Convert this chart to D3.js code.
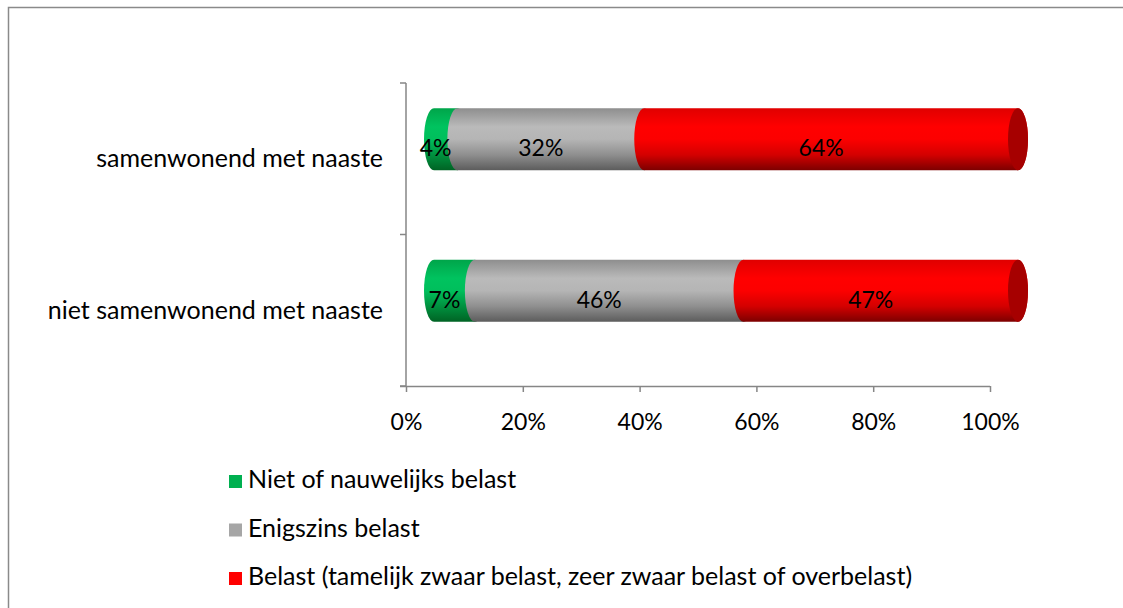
<!DOCTYPE html>
<html>
<head>
<meta charset="utf-8">
<script src="https://cdn.jsdelivr.net/npm/d3@7"></script>
<style>
  body { margin: 0; background: #fff; }
  svg { display: block; }
  text { font-family: Lato, "Open Sans", sans-serif; fill: #000; }
</style>
</head>
<body>
<svg id="chart" width="1123" height="608"></svg>
<script>
// data
var categories = ["samenwonend met naaste", "niet samenwonend met naaste"];
var seriesNames = [
  "Niet of nauwelijks belast",
  "Enigszins belast",
  "Belast (tamelijk zwaar belast, zeer zwaar belast of overbelast)"
];
var nietBelast = [4, 7];
var enigszins = [32, 46];
var belast = [64, 47];
var xTicks = [0, 20, 40, 60, 80, 100];

// styles
var legendColors = ["#00b050", "#a6a6a6", "#ff0000"];
var gradStops = [
  ["#00a54a", "#00c35f", "#00bf5c", "#00913f", "#006324"],
  ["#8e8e8e", "#bababa", "#b5b5b5", "#8f8f8f", "#5c5c5c"],
  ["#e00000", "#ff0000", "#fc0000", "#d40000", "#7c0000"]
];
var capColor = "#a60000";

var svg = d3.select("#chart");
var defs = svg.append("defs");
gradStops.forEach(function (stops, i) {
  var g = defs.append("linearGradient")
    .attr("id", "cyl" + i)
    .attr("x1", 0).attr("y1", 0).attr("x2", 0).attr("y2", 1);
  var offs = [0, 0.3, 0.5, 0.75, 1];
  stops.forEach(function (c, j) {
    g.append("stop").attr("offset", offs[j]).attr("stop-color", c);
  });
});

// outer frame (only top and left visible)
svg.append("path")
  .attr("d", "M8.5,608 L8.5,7.5 L1123,7.5")
  .attr("fill", "none")
  .attr("stroke", "#8a8a8a")
  .attr("stroke-width", 1.5);

var x = d3.scaleLinear().domain([0, 100]).range([406, 990]);
var y = d3.scaleBand().domain(categories).range([83, 386])
  .paddingInner(0.59).paddingOuter(0.295);

// 3D offsets of the bars and data labels
var barDx = 28, barDy = -19.5;
var lblDx = 18, lblDy = -2.5;
var rx = 10;

// stacked data
var series = [nietBelast, enigszins, belast];
var stacked = [];
categories.forEach(function (c, ci) {
  var acc = 0;
  series.forEach(function (s, si) {
    stacked.push({ cat: c, s: si, v: s[ci], x0: acc, x1: acc + s[ci], last: si === series.length - 1 });
    acc += s[ci];
  });
});

// axes
var axisColor = "#868686";
var xAxis = d3.axisBottom(x)
  .tickValues(xTicks)
  .tickSize(6)
  .tickSizeOuter(0)
  .tickPadding(22)
  .tickFormat(function (d) { return d + "%"; });
var gx = svg.append("g").attr("transform", "translate(0,386)").call(xAxis);
gx.select(".domain").attr("stroke", axisColor).attr("stroke-width", 1.5)
  .attr("d", "M400,0.5H" + x(100));
gx.selectAll(".tick line").attr("stroke", axisColor).attr("stroke-width", 1.5);
gx.selectAll(".tick text")
  .style("font-family", "Lato, 'Open Sans', sans-serif")
  .style("font-size", "23px")
  .attr("fill", "#000");

var gy = svg.append("g");
gy.append("line")
  .attr("x1", x(0)).attr("x2", x(0))
  .attr("y1", y.range()[0]).attr("y2", y.range()[1])
  .attr("stroke", axisColor).attr("stroke-width", 1.5);
var yEdges = d3.range(categories.length + 1).map(function (i) { return y.range()[0] + i * y.step(); });
gy.selectAll(".ytick").data(yEdges).enter().append("line")
  .attr("x1", x(0) - 6).attr("x2", x(0))
  .attr("y1", function (d) { return d; }).attr("y2", function (d) { return d; })
  .attr("stroke", axisColor).attr("stroke-width", 1.5);

gy.selectAll(".cat").data(categories).enter().append("text")
  .attr("x", 383)
  .attr("y", function (d) { return y(d) + y.bandwidth() / 2 + 8.7; })
  .attr("text-anchor", "end")
  .style("font-size", "25px")
  .text(function (d) { return d; });

// cylinders
var ry = y.bandwidth() / 2;
function segPath(d) {
  var top = y(d.cat) + barDy, bot = top + y.bandwidth();
  var a = x(d.x0) + barDx, b = x(d.x1) + barDx;
  return "M" + a + "," + top + "L" + b + "," + top +
    "A" + rx + "," + ry + " 0 0 1 " + b + "," + bot +
    "L" + a + "," + bot +
    "A" + rx + "," + ry + " 0 0 1 " + a + "," + top + "Z";
}
var bars = svg.append("g");
bars.selectAll("path.seg").data(stacked).enter().append("path")
  .attr("class", "seg")
  .attr("d", segPath)
  .attr("fill", function (d) { return "url(#cyl" + d.s + ")"; });
bars.selectAll("ellipse.cap").data(stacked.filter(function (d) { return d.last; })).enter()
  .append("ellipse")
  .attr("cx", function (d) { return x(d.x1) + barDx; })
  .attr("cy", function (d) { return y(d.cat) + barDy + ry; })
  .attr("rx", rx).attr("ry", ry)
  .attr("fill", capColor);

// data labels
svg.append("g").selectAll("text").data(stacked).enter().append("text")
  .attr("x", function (d) { return x((d.x0 + d.x1) / 2) + lblDx; })
  .attr("y", function (d) { return y(d.cat) + y.bandwidth() / 2 + lblDy; })
  .attr("text-anchor", "middle")
  .style("font-size", "23px")
  .text(function (d) { return d.v + "%"; });

// legend
var legend = svg.append("g").selectAll("g").data(seriesNames).enter().append("g")
  .attr("transform", function (d, i) { return "translate(229," + (488 + i * 48.5) + ")"; });
legend.append("rect")
  .attr("x", 0).attr("y", -13).attr("width", 13).attr("height", 13)
  .attr("fill", function (d, i) { return legendColors[i]; });
legend.append("text")
  .attr("x", 19).attr("y", 0)
  .style("font-size", "25px")
  .text(function (d) { return d; });
</script>
</body>
</html>
